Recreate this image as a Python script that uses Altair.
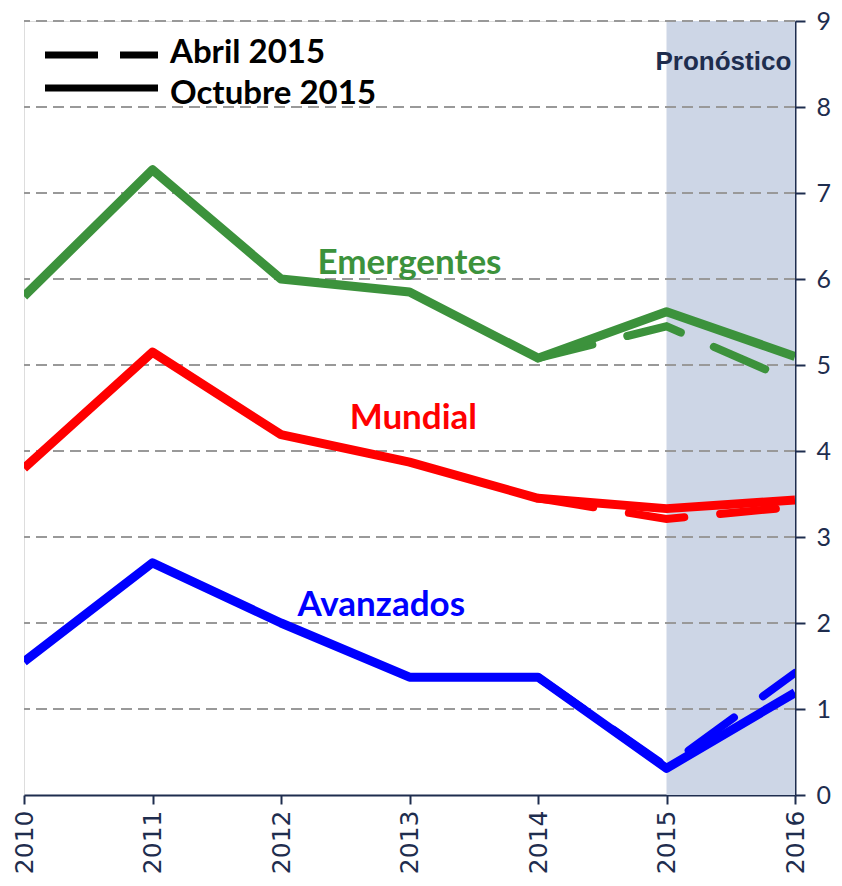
import altair as alt
import pandas as pd

years = [2010, 2011, 2012, 2013, 2014, 2015, 2016]
emerg_oct = [5.80, 7.27, 6.00, 5.85, 5.08, 5.62, 5.10]
mund_oct = [3.80, 5.15, 4.19, 3.87, 3.45, 3.33, 3.43]
avanz_oct = [1.55, 2.70, 2.00, 1.37, 1.37, 0.31, 1.19]

years_apr = [2014, 2015, 2016]
emerg_apr = [5.08, 5.45, 4.80]
mund_apr = [3.45, 3.21, 3.35]
avanz_apr = [1.37, 0.33, 1.42]

series_names = ["Emergentes", "Mundial", "Avanzados"]
series_colors = ["#3C923C", "#FF0000", "#0000FF"]
label_x = [2013.0, 2013.03, 2012.78]
label_y = [6.19, 4.38, 2.21]

y_ticks = [1, 2, 3, 4, 5, 6, 7, 8, 9]
forecast_start, forecast_end = 2015, 2016

navy = "#1E2D4E"

rows_oct = []
for name, vals in zip(series_names, [emerg_oct, mund_oct, avanz_oct]):
    for yr, v in zip(years, vals):
        rows_oct.append({"serie": name, "year": yr, "value": v})
df_oct = pd.DataFrame(rows_oct)

rows_apr = []
for name, vals in zip(series_names, [emerg_apr, mund_apr, avanz_apr]):
    for yr, v in zip(years_apr, vals):
        rows_apr.append({"serie": name, "year": yr, "value": v})
df_apr = pd.DataFrame(rows_apr)

df_labels = pd.DataFrame({"serie": series_names, "x": label_x, "y": label_y})

xscale = alt.Scale(domain=[2010, 2016], nice=False, zero=False)
yscale = alt.Scale(domain=[0, 9], nice=False)
color = alt.Color("serie:N", scale=alt.Scale(domain=series_names, range=series_colors), legend=None)

x_axis = alt.Axis(values=years, format="d", labelAngle=-90, labelFontSize=25, labelFont="DejaVu Sans",
                  labelColor=navy, domainColor=navy, domainWidth=2, tickColor=navy, tickWidth=2,
                  tickSize=9, grid=False, title=None, labelPadding=6)
y_axis = alt.Axis(orient="right", values=[0] + y_ticks, format="d", labelFontSize=25, labelFont="Lato",
                  labelColor=navy, domainColor=navy, domainWidth=2, tickColor=navy, tickWidth=2,
                  tickSize=10, grid=False, title=None, labelPadding=11)

rect = alt.Chart(pd.DataFrame({"a": [forecast_start], "b": [forecast_end]})).mark_rect(
    color="#CDD6E6").encode(
    x=alt.X("a:Q", scale=xscale, axis=x_axis), x2="b:Q",
    y=alt.value(0), y2=alt.value(774))

grid = alt.Chart(pd.DataFrame({"v": y_ticks})).mark_rule(
    color="#999999", strokeWidth=2, strokeDash=[11, 6]).encode(
    y=alt.Y("v:Q", scale=yscale, axis=y_axis))

apr = alt.Chart(df_apr).mark_line(strokeWidth=8, strokeDash=[56, 36], strokeCap="round",
                                  clip=True).encode(
    x=alt.X("year:Q", scale=xscale), y=alt.Y("value:Q", scale=yscale), color=color,
    detail="serie:N")

oct_ = alt.Chart(df_oct).mark_line(strokeWidth=9, clip=True, strokeJoin="round").encode(
    x=alt.X("year:Q", scale=xscale), y=alt.Y("value:Q", scale=yscale), color=color,
    detail="serie:N")

labels = alt.Chart(df_labels).mark_text(fontSize=35, fontWeight="bold", font="Lato",
                                        align="center", baseline="middle").encode(
    x=alt.X("x:Q", scale=xscale), y=alt.Y("y:Q", scale=yscale), text="serie:N", color=color)

prono = alt.Chart(pd.DataFrame({"t": ["Pronóstico"], "x": [forecast_start], "y": [8.52]})).mark_text(
    fontSize=26, fontWeight="bold", font="Liberation Sans", color=navy, align="left",
    baseline="middle", dx=-11).encode(
    x=alt.X("x:Q", scale=xscale), y=alt.Y("y:Q", scale=yscale), text="t:N")

leg_dash = alt.Chart(pd.DataFrame({"k": ["Abril 2015"]})).mark_rule(
    color="black", strokeWidth=7, strokeDash=[53, 22], strokeCap="butt").encode(
    x=alt.value(21), x2=alt.value(134), y=alt.value(34))
leg_solid = alt.Chart(pd.DataFrame({"k": ["Octubre 2015"]})).mark_rule(
    color="black", strokeWidth=7, strokeCap="butt").encode(
    x=alt.value(21), x2=alt.value(134), y=alt.value(67))
leg_text = alt.Chart(pd.DataFrame({"k": ["Abril 2015", "Octubre 2015"], "py": [32, 73]})).mark_text(
    fontSize=33, fontWeight="bold", font="Lato", color="black", align="left",
    baseline="middle").encode(
    x=alt.value(146), y=alt.Y("py:Q", scale=None), text="k:N")

chart = alt.layer(rect, grid, apr, oct_, labels, prono, leg_dash, leg_solid, leg_text).properties(
    width=771, height=774,
    autosize=alt.AutoSizeParams(type="none"),
    padding={"left": 16, "top": 13, "right": 39, "bottom": 80},
).configure_view(fill="#EBEBEB", stroke=None).configure(background="white")

chart.save("out.html", embed_options={"renderer": "svg", "actions": False})
